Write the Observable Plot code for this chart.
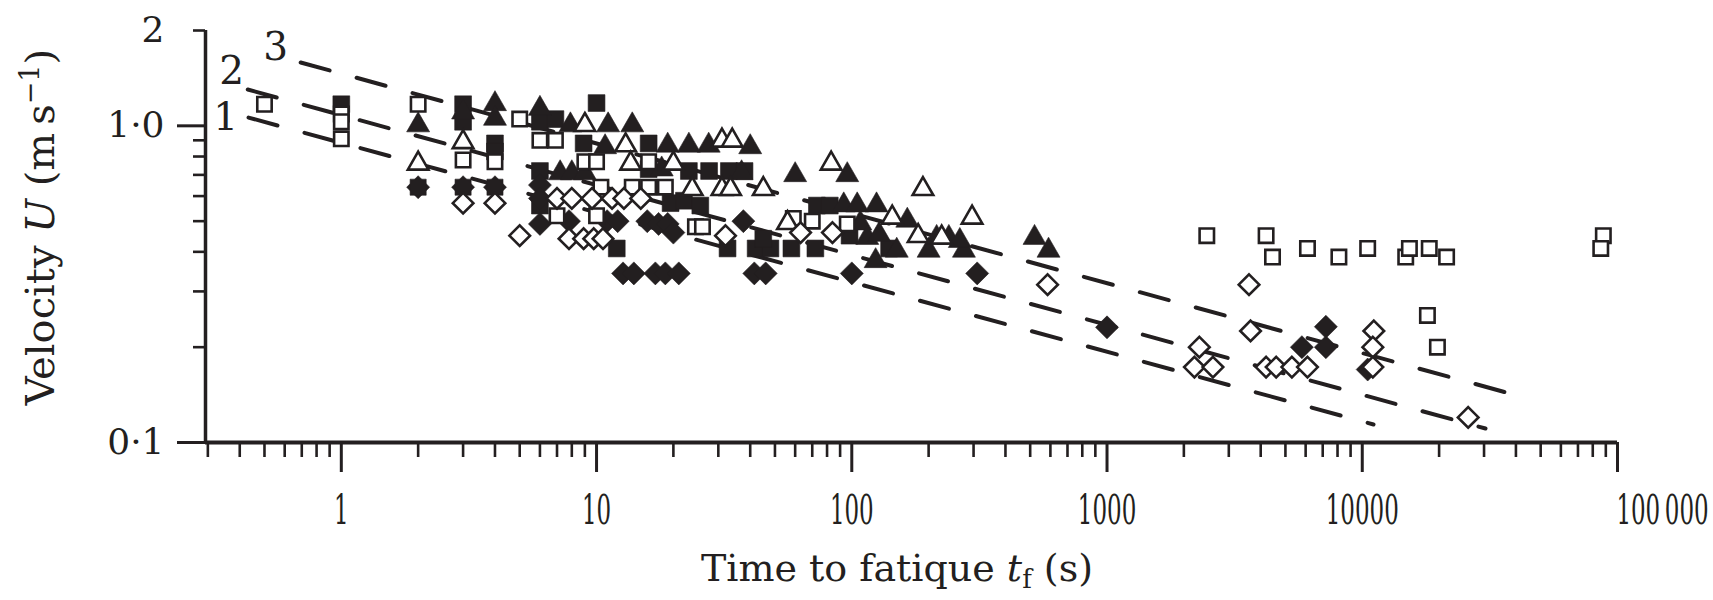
<!DOCTYPE html>
<html>
<head>
<meta charset="utf-8">
<script src="https://cdn.jsdelivr.net/npm/d3@7"></script>
<script src="https://cdn.jsdelivr.net/npm/@observablehq/plot@0.6"></script>
<style>
  html, body { margin: 0; padding: 0; background: #ffffff; }
  #chart { width: 1713px; height: 600px; }
</style>
</head>
<body>
<div id="chart"></div>
<script>
// ---------------- data (time to fatigue t [s], velocity U [m/s]) ----------------
const filledSquares = [[1,1.17],[3,1.17],[3,1.03],[4,0.88],[4,0.83],[6,1.03],[6.9,1.05],[10,1.18],[8.9,0.88],[16,0.88],[6,0.72],[16,0.73],[23,0.72],[27.6,0.72],[33,0.72],[38,0.72],[6,0.56],[19.5,0.57],[22,0.58],[25.5,0.56],[12,0.41],[32.6,0.41],[42,0.41],[48,0.41],[58,0.41],[72,0.41],[45,0.44],[73,0.56],[82,0.56],[98,0.45],[140,0.41]];
const openSquares = [[0.5,1.17],[1,1.09],[1,1.03],[1,0.91],[2,1.17],[3,0.78],[4,0.77],[5,1.05],[6,0.9],[6.9,0.9],[9,0.77],[10,0.77],[16,0.77],[10.4,0.64],[13.8,0.64],[16,0.64],[18.6,0.64],[7,0.52],[10,0.52],[24.4,0.48],[26,0.48],[59,0.51],[70,0.5],[96,0.49],[2460,0.45],[4200,0.45],[4450,0.385],[6100,0.41],[8100,0.385],[10500,0.41],[14800,0.385],[15300,0.41],[18300,0.41],[21400,0.385],[88000,0.45],[86000,0.41],[18000,0.252],[19700,0.2]];
const filledTriangles = [[2,1.02],[3,1.12],[4,1.19],[4,1.07],[6,1.15],[7.9,1.02],[11.1,1.02],[13.8,1.02],[10.8,0.87],[19,0.88],[23,0.88],[27.5,0.88],[40,0.87],[7.2,0.72],[8,0.72],[9,0.72],[18,0.74],[37,0.72],[60,0.71],[96,0.71],[93,0.57],[105,0.57],[125,0.57],[108,0.5],[115,0.45],[128,0.46],[124,0.38],[150,0.41],[200,0.41],[275,0.41],[165,0.51],[215,0.45],[240,0.45],[265,0.44],[520,0.45],[590,0.41]];
const openTriangles = [[2,0.77],[3,0.9],[9,1.02],[13,0.88],[31,0.91],[34,0.91],[13.6,0.77],[20,0.77],[23.7,0.64],[31,0.64],[33.5,0.64],[45,0.64],[83,0.77],[190,0.64],[296,0.52],[56,0.5],[144,0.52],[182,0.455],[225,0.45]];
const filledDiamonds = [[6,0.65],[6,0.59],[6,0.49],[7.8,0.5],[11,0.5],[12.1,0.5],[15.8,0.5],[17.5,0.49],[19,0.49],[20,0.46],[37.6,0.5],[12.7,0.342],[14,0.342],[17,0.342],[18.6,0.342],[21,0.342],[41.5,0.342],[46,0.342],[100,0.342],[310,0.342],[1000,0.231],[5800,0.2],[7200,0.2],[7200,0.232],[10500,0.17]];
const openDiamonds = [[3,0.57],[4,0.57],[5,0.45],[7,0.59],[8,0.59],[9.6,0.59],[11.5,0.59],[12.8,0.59],[14.9,0.59],[7.8,0.44],[8.9,0.44],[9.75,0.44],[10.6,0.44],[32,0.45],[63,0.46],[84,0.46],[585,0.315],[3600,0.315],[3650,0.225],[2300,0.2],[2200,0.173],[2600,0.173],[4200,0.173],[4600,0.173],[5300,0.173],[6100,0.173],[11100,0.225],[11000,0.2],[11000,0.173],[26000,0.12]];
const stars = [[2,0.64],[3,0.64],[4,0.64]];

// dashed power-law lines 1, 2, 3
const lineIds    = ["1", "2", "3"];
const lineStartT = [0.433, 0.430, 0.693];
const lineStartU = [1.062, 1.302, 1.585];
const lineEndT   = [11070, 30400, 39140];
const lineEndU   = [0.114, 0.1107, 0.1418];
const lineLabelT = [0.352, 0.372, 0.553];
const lineLabelU = [1.062, 1.483, 1.767];

// axes
const xDomain = [0.2937, 100000];
const yDomain = [0.1, 2];
const xMajorTicks  = [1, 10, 100, 1000, 10000, 100000];
const xTickLabels  = ["1", "10", "100", "1000", "10000", "100\u2009000"];
const yMajorTicks  = [0.1, 1, 2];
const yTickLabels  = ["0\u00b71", "1\u00b70", "2"];
const xTitleParts  = ["Time to fatique ", "t", "f", " (s)"];
const yTitleParts  = ["Velocity ", "U", " (m\u2009s", "\u22121", ")"];

// ---------------- derived tables ----------------
const INK = "#231f20";
const FONT = "'DejaVu Serif', serif";
const lineRows = lineIds.flatMap((id, i) => [
  {id, t: lineStartT[i], U: lineStartU[i]},
  {id, t: lineEndT[i], U: lineEndU[i]}
]);
const lineLabelRows = lineIds.map((id, i) => ({id, t: lineLabelT[i], U: lineLabelU[i]}));
const xLabelMap = new Map(xMajorTicks.map((d, i) => [d, xTickLabels[i]]));
const yLabelMap = new Map(yMajorTicks.map((d, i) => [d, yTickLabels[i]]));
const xMinorTicks = [];
for (let e = -1; e < 5; ++e) for (let m = 2; m <= 9; ++m) {
  const v = m * Math.pow(10, e);
  if (v >= xDomain[0]) xMinorTicks.push(+v.toPrecision(6));
}
const yMinorTicks = [0.2, 0.3, 0.4, 0.5, 0.6, 0.7, 0.8, 0.9];

// ---------------- custom symbols (size = r*r*PI) ----------------
const unit = (size) => Math.sqrt(size / Math.PI);
const SQUARE = {draw(c, size) { const s = unit(size); c.moveTo(-s, -s); c.lineTo(s, -s); c.lineTo(s, s); c.lineTo(-s, s); c.closePath(); }};
const TRIANGLE = {draw(c, size) { const s = unit(size); c.moveTo(0, -0.98 * s); c.lineTo(s, 0.76 * s); c.lineTo(-s, 0.76 * s); c.closePath(); }};
const DIAMOND = {draw(c, size) { const s = unit(size); c.moveTo(0, -s); c.lineTo(s, 0); c.lineTo(0, s); c.lineTo(-s, 0); c.closePath(); }};
const STAR = {draw(c, size) { const s = unit(size), a = 0.7 * s;
  c.moveTo(-a, -a); c.lineTo(a, -a); c.lineTo(a, a); c.lineTo(-a, a); c.closePath();
  c.moveTo(0, -s); c.lineTo(s, 0); c.lineTo(0, s); c.lineTo(-s, 0); c.closePath(); }};

const px = (d) => d[0], py = (d) => d[1];
const filled = (data, symbol, r) => Plot.dot(data, {x: px, y: py, symbol, r, fill: INK, stroke: INK, strokeWidth: 0.6});
const open = (data, symbol, r) => Plot.dot(data, {x: px, y: py, symbol, r, fill: "white", stroke: INK, strokeWidth: 2.6});

const plot = Plot.plot({
  width: 1713,
  height: 600,
  marginLeft: 205,
  marginRight: 96,
  marginTop: 30,
  marginBottom: 158,
  style: {fontFamily: FONT, color: INK, background: "white", overflow: "visible"},
  x: {type: "log", domain: xDomain, axis: null},
  y: {type: "log", domain: yDomain, axis: null},
  marks: [
    // x axis ticks
    Plot.axisX({ticks: xMinorTicks, anchor: "bottom", tickSize: 15, tickFormat: () => "", label: null, stroke: INK, strokeWidth: 2.6}),
    Plot.axisX({ticks: xMajorTicks, anchor: "bottom", tickSize: 30, tickPadding: 22, fontSize: 41,
      tickFormat: (d) => d === 100000 ? "" : xLabelMap.get(d), label: null, stroke: INK, strokeWidth: 3}),
    Plot.axisX({ticks: [100000], anchor: "bottom", tickSize: 0, tickPadding: 52, fontSize: 41, dx: 45,
      tickFormat: (d) => xLabelMap.get(d), label: null}),
    // y axis ticks
    Plot.axisY({ticks: yMinorTicks, anchor: "left", tickSize: 12, tickFormat: () => "", label: null, stroke: INK, strokeWidth: 2.6}),
    Plot.axisY({ticks: [0.1, 1], anchor: "left", tickSize: 28, tickPadding: 13, fontSize: 36,
      tickFormat: (d) => yLabelMap.get(d), label: null, stroke: INK, strokeWidth: 3}),
    Plot.axisY({ticks: [2], anchor: "left", tickSize: 12, tickPadding: 29, fontSize: 36,
      tickFormat: (d) => yLabelMap.get(d), label: null, stroke: INK, strokeWidth: 2.6}),
    // axis lines
    Plot.ruleX([xDomain[0]], {stroke: INK, strokeWidth: 3.5}),
    Plot.ruleY([yDomain[0]], {stroke: INK, strokeWidth: 4}),
    // dashed fit lines
    Plot.line(lineRows, {x: "t", y: "U", z: "id", stroke: INK, strokeWidth: 4, strokeDasharray: "30,28"}),
    Plot.text(lineLabelRows, {x: "t", y: "U", text: "id", fontSize: 39, fill: INK}),
    // data points
    filled(stars, STAR, 11.5),
    filled(filledSquares, SQUARE, 8.4),
    filled(filledTriangles, TRIANGLE, 11.5),
    filled(filledDiamonds, DIAMOND, 11.5),
    open(openSquares, SQUARE, 7.2),
    open(openTriangles, TRIANGLE, 10.3),
    open(openDiamonds, DIAMOND, 10.3)
  ]
});

// condense the x tick labels horizontally (as in the original typesetting)
plot.querySelectorAll('[aria-label="x-axis tick label"] text').forEach((el) => {
  const k = 0.56;
  const tr = el.getAttribute("transform");
  if (tr) el.setAttribute("transform", tr + ` scale(${k},1)`);
  else {
    const x = parseFloat(el.getAttribute("x")) || 0;
    el.setAttribute("x", x / k);
    el.setAttribute("transform", `scale(${k},1)`);
  }
});

// axis titles with italic symbols, subscript and superscript
const svg = d3.select(plot);
const xt = svg.append("text").attr("x", 897).attr("y", 581).attr("text-anchor", "middle")
  .attr("font-family", FONT).attr("font-size", 38).attr("fill", INK);
xt.append("tspan").text(xTitleParts[0]);
xt.append("tspan").attr("font-style", "italic").text(xTitleParts[1]);
xt.append("tspan").attr("font-size", 26).attr("dy", 7).text(xTitleParts[2]);
xt.append("tspan").attr("dy", -7).text(xTitleParts[3]);

const yt = svg.append("text").attr("transform", "translate(54,227) rotate(-90)").attr("text-anchor", "middle")
  .attr("font-family", FONT).attr("font-size", 40).attr("fill", INK);
yt.append("tspan").text(yTitleParts[0]);
yt.append("tspan").attr("font-style", "italic").text(yTitleParts[1]);
yt.append("tspan").text(yTitleParts[2]);
yt.append("tspan").attr("font-size", 27).attr("dy", -15).text(yTitleParts[3]);
yt.append("tspan").attr("dy", 15).text(yTitleParts[4]);

document.getElementById("chart").appendChild(plot);
</script>
</body>
</html>
